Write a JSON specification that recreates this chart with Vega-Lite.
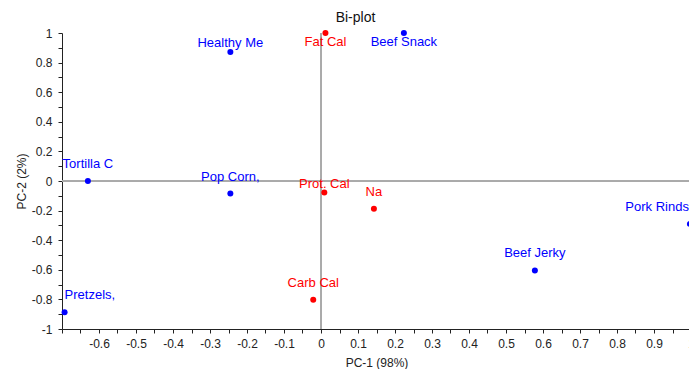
{
  "$schema": "https://vega.github.io/schema/vega-lite/v6.json",
  "width": 629,
  "height": 296,
  "autosize": {"type": "none"},
  "padding": {"left": 62, "top": 33, "right": 0, "bottom": 40},
  "background": "white",
  "config": {"view": {"stroke": null}, "font": "Liberation Sans"},
  "title": {"text": "Bi-plot", "fontSize": 14, "font": "Liberation Sans", "fontWeight": "normal", "color": "#111", "anchor": "middle", "dx": -21, "frame": "group", "offset": -9, "baseline": "alphabetic"},
  "data": {"values": [
    {"name": "Healthy Me", "pc1": -0.245, "pc2": 0.871, "type": "sample"},
    {"name": "Fat Cal", "pc1": 0.012, "pc2": 1.0, "type": "variable"},
    {"name": "Beef Snack", "pc1": 0.224, "pc2": 1.0, "type": "sample"},
    {"name": "Tortilla C", "pc1": -0.63, "pc2": 0.0, "type": "sample"},
    {"name": "Pop Corn,", "pc1": -0.245, "pc2": -0.085, "type": "sample"},
    {"name": "Prot. Cal", "pc1": 0.009, "pc2": -0.078, "type": "variable"},
    {"name": "Na", "pc1": 0.143, "pc2": -0.188, "type": "variable"},
    {"name": "Pork Rinds", "pc1": 0.997, "pc2": -0.29, "type": "sample"},
    {"name": "Beef Jerky", "pc1": 0.578, "pc2": -0.604, "type": "sample"},
    {"name": "Carb Cal", "pc1": -0.021, "pc2": -0.803, "type": "variable"},
    {"name": "Pretzels,", "pc1": -0.693, "pc2": -0.887, "type": "sample"}
  ]},
  "encoding": {
    "x": {"field": "pc1", "type": "quantitative",
      "scale": {"domain": [-0.7, 1.0], "nice": false, "zero": false},
      "axis": {"title": "PC-1 (98%)", "grid": false,
        "values": [-0.7,-0.65,-0.6,-0.55,-0.5,-0.45,-0.4,-0.35,-0.3,-0.25,-0.2,-0.15,-0.1,-0.05,0,0.05,0.1,0.15,0.2,0.25,0.3,0.35,0.4,0.45,0.5,0.55,0.6,0.65,0.7,0.75,0.8,0.85,0.9,0.95,1.0],
        "labelExpr": "(round(datum.value*20)%2==0 && datum.value>-0.69) ? toString(datum.value) : ''",
        "tickSize": 4, "labelPadding": 5, "labelFlush": false, "labelOverlap": false,
        "labelFont": "Liberation Sans", "labelFontSize": 12, "labelColor": "#222",
        "domainColor": "#222", "tickColor": "#222",
        "titleFont": "Liberation Sans", "titleFontSize": 12, "titleFontWeight": "normal", "titleColor": "#222",
        "titleY": 33, "titleBaseline": "middle"}},
    "y": {"field": "pc2", "type": "quantitative",
      "scale": {"domain": [-1, 1], "nice": false, "zero": false},
      "axis": {"title": "PC-2 (2%)", "grid": false,
        "values": [-1,-0.9,-0.8,-0.7,-0.6,-0.5,-0.4,-0.3,-0.2,-0.1,0,0.1,0.2,0.3,0.4,0.5,0.6,0.7,0.8,0.9,1],
        "labelExpr": "round(datum.value*10)%2==0 ? toString(datum.value) : ''",
        "tickSize": 4, "labelPadding": 6, "labelFlush": false, "labelOverlap": false,
        "labelFont": "Liberation Sans", "labelFontSize": 12, "labelColor": "#222",
        "domainColor": "#222", "tickColor": "#222",
        "titleFont": "Liberation Sans", "titleFontSize": 12, "titleFontWeight": "normal", "titleColor": "#222",
        "titleX": -41, "titleBaseline": "middle"}},
    "color": {"field": "type", "type": "nominal", "scale": {"domain": ["sample", "variable"], "range": ["#0000ff", "#ff0000"]}, "legend": null}
  },
  "layer": [
    {"mark": {"type": "rule", "color": "#aaaaaa", "strokeWidth": 1}, "encoding": {"x": {"datum": 0, "type": "quantitative"}, "y": null, "color": null}},
    {"mark": {"type": "rule", "color": "#aaaaaa", "strokeWidth": 1}, "encoding": {"y": {"datum": 0, "type": "quantitative"}, "x": null, "color": null}},
    {"mark": {"type": "circle", "size": 36, "opacity": 1}},
    {"transform": [{"filter": "indexof(['Healthy Me','Prot. Cal','Fat Cal','Beef Snack','Pretzels,','Pork Rinds'], datum.name) < 0"}],
     "mark": {"type": "text", "font": "Liberation Sans", "fontSize": 13, "baseline": "middle", "align": "center", "dy": -17},
     "encoding": {"text": {"field": "name"}}},
    {"transform": [{"filter": "indexof(['Healthy Me','Prot. Cal'], datum.name) >= 0"}],
     "mark": {"type": "text", "font": "Liberation Sans", "fontSize": 13, "baseline": "middle", "align": "center", "dy": -9},
     "encoding": {"text": {"field": "name"}}},
    {"transform": [{"filter": "indexof(['Fat Cal','Beef Snack'], datum.name) >= 0"}],
     "mark": {"type": "text", "font": "Liberation Sans", "fontSize": 13, "baseline": "middle", "align": "center", "dy": 9},
     "encoding": {"text": {"field": "name"}}},
    {"transform": [{"filter": "datum.name == 'Pretzels,'"}],
     "mark": {"type": "text", "font": "Liberation Sans", "fontSize": 13, "baseline": "middle", "align": "left", "dy": -17},
     "encoding": {"text": {"field": "name"}}},
    {"transform": [{"filter": "datum.name == 'Pork Rinds'"}],
     "mark": {"type": "text", "font": "Liberation Sans", "fontSize": 13, "baseline": "middle", "align": "right", "dy": -17, "dx": -1},
     "encoding": {"text": {"field": "name"}}}
  ]
}
